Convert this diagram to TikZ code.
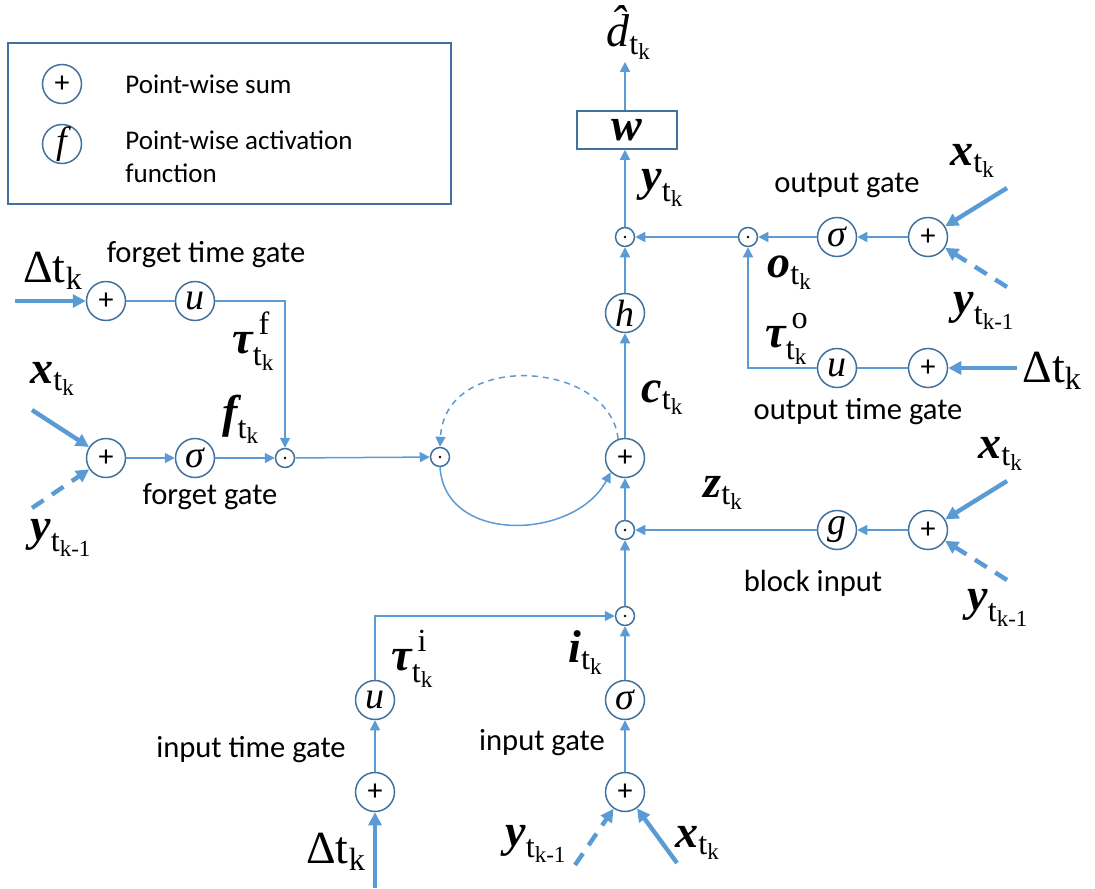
\documentclass[tikz,border=0pt]{standalone}
\usepackage{amsmath}
\usepackage{fontspec}
\setmainfont{Liberation Serif}
\setsansfont{Carlito}
\usepackage{xcolor}
\usetikzlibrary{arrows.meta,positioning,calc}
\definecolor{lineblue}{HTML}{5B9BD5}
\definecolor{circblue}{HTML}{41719C}
\newcommand{\bi}[1]{\text{\rmfamily\bfseries\itshape #1}}
\newcommand{\tn}[1]{\text{\rmfamily\mdseries\upshape #1}}
\newcommand{\vtk}[1]{$\bi{#1}_{\tn{t}_{\tn{k}}}$}
\newcommand{\vtkm}[1]{$\bi{#1}_{\tn{t}_{\tn{k-1}}}$}
\newcommand{\tautk}[1]{$\bi{τ}^{\,\tn{#1}}_{\tn{t}_{\tn{k}}}$}
\newcommand{\dtk}{$\tn{Δt}_{\tn{k}}$}

\begin{document}
\begin{tikzpicture}[x=0.5pt,y=-0.5pt,
    op/.style={circle,draw=circblue,line width=0.75pt,minimum size=19.5pt,inner sep=0pt,font=\fontsize{19}{20}\selectfont\rmfamily\itshape},
    sum/.style={op,font=\fontsize{15}{16}\selectfont\sffamily},
    prod/.style={circle,draw=circblue,line width=0.75pt,minimum size=9.5pt,inner sep=0pt,
        path picture={\fill[black] (path picture bounding box.center) circle (0.7pt);}},
    arr/.style={lineblue,line width=0.75pt,-{Triangle[length=5pt,width=5pt]}},
    link/.style={lineblue,line width=0.75pt},
    inarr/.style={lineblue,line width=2.2pt,-{Triangle[length=6.5pt,width=6.5pt]}},
    recarr/.style={inarr,dash pattern=on 7pt off 5pt},
    lbl/.style={anchor=base west,inner sep=0pt,font=\fontsize{23}{27}\selectfont\rmfamily},
    txt/.style={inner sep=0pt,font=\fontsize{15.3}{18}\selectfont\sffamily},
    lgtxt/.style={anchor=base west,inner sep=0pt,font=\fontsize{13.5}{16}\selectfont\sffamily}]
    \useasboundingbox (0,0) rectangle (1095,888);

    % Legend
    \draw[circblue,line width=0.75pt] (8,43) rectangle (451,204);
    \node[sum] (lgsum) at (62,84) {+};
    \node[op] (lgact) at (62,144) {f};
    \node[lgtxt] (lgsumtxt) at (125,94) {Point-wise sum};
    \node[lgtxt] (lgacttxt) at (125,149) {Point-wise activation};
    \node[lgtxt] (lgacttxtb) at (125,182) {function};

    % Forget time gate and forget gate
    \node[sum] (ftsum) at (106,301) {+};
    \node[op] (ftu) at (195,301) {u};
    \node[sum] (fsum) at (106,458) {+};
    \node[op] (fsig) at (195,458) {σ};
    \node[prod] (fprod) at (285,458) {};
    \node[txt] (ftgtxt) at (206,255) {forget time gate};
    \node[txt] (fgtxt) at (210,497) {forget gate};
    \coordinate (dtf) at (15,301);
    \coordinate (xf) at (32,410);
    \coordinate (yf) at (32,508);
    \node[lbl] (dtflbl) at (23,282) {\dtk};
    \node[lbl] (xflbl) at (30,383) {\vtk{x}};
    \node[lbl] (yflbl) at (30,540) {\vtkm{y}};
    \node[lbl] (tauf) at (232,353) {\tautk{f}};
    \node[lbl] (flbl) at (222,427) {\vtk{f}};
    \draw[inarr] (dtf) -- (ftsum);
    \draw[inarr] (xf) -- (fsum);
    \draw[recarr] (yf) -- (fsum);
    \draw[link] (ftsum) -- (ftu);
    \draw[arr] (ftu.east) -| (fprod.north);
    \draw[arr] (fsum) -- (fsig);
    \draw[arr] (fsig) -- (fprod);

    % Cell
    \node[prod] (cprod) at (440,457) {};
    \node[sum] (csum) at (625,458) {+};
    \node[lbl] (clbl) at (641,402) {\vtk{c}};
    \draw[arr] (fprod) -- (cprod);
    \draw[arr] (cprod.south) .. controls (445,545) and (575,540) .. (csum.225);
    \draw[arr,dash pattern=on 3pt off 2.5pt] (csum.110) .. controls (610,360) and (445,350) .. (cprod.north);

    % Output
    \node[op] (hact) at (625,313) {h};
    \node[prod] (yprod) at (625,237) {};
    \node[draw=circblue,line width=0.75pt,minimum width=50pt,minimum height=19pt,inner sep=0pt,
        font=\fontsize{23}{27}\selectfont] (wbox) at (627,130) {$\bi{w}$};
    \coordinate (dtop) at (625,62);
    \node[lbl] (dhat) at (606,47) {$\text{\rmfamily\itshape\^{d}}_{\tn{t}_{\tn{k}}}$};
    \node[lbl] (ylbl) at (641,190) {\vtk{y}};
    \draw[arr] (csum) -- (hact);
    \draw[arr] (hact) -- (yprod);
    \draw[arr] (yprod) -- (yprod |- wbox.south);
    \draw[arr] (yprod |- wbox.north) -- (dtop);

    % Output gate and output time gate
    \node[prod] (oprod) at (748,237) {};
    \node[op] (osig) at (837,237) {σ};
    \node[sum] (osum) at (928,237) {+};
    \node[op] (otu) at (837,368) {u};
    \node[sum] (otsum) at (928,368) {+};
    \node[txt] (ogtxt) at (847,185) {output gate};
    \node[txt] (otgtxt) at (858,412) {output time gate};
    \coordinate (xo) at (1007,188);
    \coordinate (yo) at (1007,287);
    \coordinate (dto) at (1017,368);
    \node[lbl] (xolbl) at (950,165) {\vtk{x}};
    \node[lbl] (yolbl) at (953,313) {\vtkm{y}};
    \node[lbl] (dtolbl) at (1022,382) {\dtk};
    \node[lbl] (olbl) at (767,277) {\vtk{o}};
    \node[lbl] (tauo) at (765,347) {\tautk{o}};
    \draw[inarr] (xo) -- (osum);
    \draw[recarr] (yo) -- (osum);
    \draw[inarr] (dto) -- (otsum);
    \draw[arr] (osum) -- (osig);
    \draw[arr] (osig) -- (oprod);
    \draw[arr] (oprod) -- (yprod);
    \draw[link] (otsum) -- (otu);
    \draw[arr] (otu.west) -| (oprod.south);

    % Block input
    \node[prod] (zprod) at (625,530) {};
    \node[op] (gact) at (837,530) {g};
    \node[sum] (zsum) at (928,530) {+};
    \node[txt] (bitxt) at (813,583) {block input};
    \coordinate (xz) at (1007,481);
    \coordinate (yz) at (1007,580);
    \node[lbl] (xzlbl) at (978,458) {\vtk{x}};
    \node[lbl] (yzlbl) at (967,610) {\vtkm{y}};
    \node[lbl] (zlbl) at (703,497) {\vtk{z}};
    \draw[inarr] (xz) -- (zsum);
    \draw[recarr] (yz) -- (zsum);
    \draw[arr] (zsum) -- (gact);
    \draw[arr] (gact) -- (zprod);
    \draw[arr] (zprod) -- (csum);

    % Input gate and input time gate
    \node[prod] (iprod) at (625,616) {};
    \node[op] (isig) at (625,700) {σ};
    \node[sum] (isum) at (625,792) {+};
    \node[op] (itu) at (375,700) {u};
    \node[sum] (itsum) at (375,792) {+};
    \node[txt] (igtxt) at (542,743) {input gate};
    \node[txt] (itgtxt) at (251,750) {input time gate};
    \coordinate (dti) at (375,888);
    \coordinate (yi) at (575,865);
    \coordinate (xi) at (677,863);
    \node[lbl] (dtilbl) at (306,863) {\dtk};
    \node[lbl] (yilbl) at (505,846) {\vtkm{y}};
    \node[lbl] (xilbl) at (675,847) {\vtk{x}};
    \node[lbl] (ilbl) at (568,662) {\vtk{i}};
    \node[lbl] (taui) at (391,670) {\tautk{i}};
    \draw[inarr] (dti) -- (itsum);
    \draw[recarr] (yi) -- (isum);
    \draw[inarr] (xi) -- (isum);
    \draw[arr] (isum) -- (isig);
    \draw[arr] (isig) -- (iprod);
    \draw[arr] (iprod) -- (zprod);
    \draw[arr] (itsum) -- (itu);
    \draw[arr] (itu.north) |- (iprod.west);
\end{tikzpicture}
\end{document}
